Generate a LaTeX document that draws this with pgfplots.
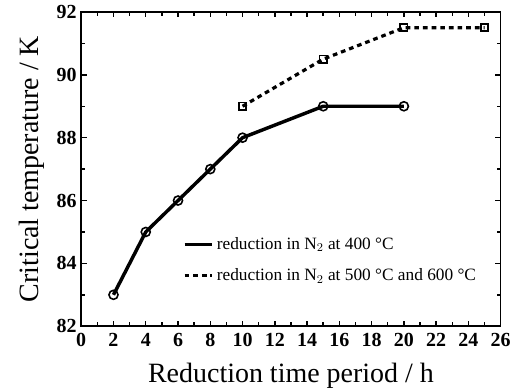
\documentclass[border=0pt]{standalone}
\usepackage{fontspec}
\setmainfont{Liberation Serif}
\usepackage{pgfplots}
\pgfplotsset{compat=1.18}

\begin{document}
\begin{tikzpicture}
\begin{axis}[
    scale only axis,
    width=315pt,
    height=236pt,
    xmin=0, xmax=26,
    ymin=82, ymax=92,
    xtick={0,2,...,26},
    ytick={82,84,...,92},
    minor x tick num=1,
    minor y tick num=1,
    tick align=inside,
    tick pos=both,
    major tick length=4pt,
    minor tick length=3pt,
    tick style={line width=1.1pt, black},
    axis line style={line width=1.2pt},
    /pgf/number format/assume math mode=true,
    ticklabel style={font=\fontsize{15}{17}\selectfont\bfseries},
    xticklabel style={yshift=-2pt},
    xlabel={Reduction time period / h},
    ylabel={Critical temperature / K},
    label style={font=\fontsize{21}{24}\selectfont},
    xlabel style={yshift=-5pt},
    ylabel style={yshift=2pt},
    legend style={at={(0.232,0.30)}, anchor=north west, draw=none, fill=none,
        font=\fontsize{13}{15}\selectfont, row sep=9pt},
    legend cell align=left,
    legend image code/.code={\draw[#1] (0pt,0pt) -- (21pt,0pt);},
]
% reduction at 400 C
\addplot[black, line width=2.6pt, mark=o, mark size=3.4pt,
    mark options={solid, fill=white, line width=1.2pt}]
coordinates {(2,83) (4,85) (6,86) (8,87) (10,88) (15,89) (20,89)};
\addlegendentry{reduction in N$_2$ at 400 °C}

% reduction at 500 C and 600 C
\addplot[black, line width=2.4pt, dash pattern=on 3.5pt off 3pt, mark=square, mark size=2.7pt,
    mark options={solid, fill=white, line width=1.2pt}]
coordinates {(10,89) (15,90.5) (20,91.5) (25,91.5)};
\addlegendentry{reduction in N$_2$ at 500 °C and 600 °C}

\coordinate (bl) at (rel axis cs:0,0);
\coordinate (tr) at (rel axis cs:1,1);
\end{axis}
\pgfresetboundingbox
\path ([xshift=-61pt,yshift=-46.5pt]bl) rectangle ([xshift=10pt,yshift=9pt]tr);
\end{tikzpicture}
\end{document}
